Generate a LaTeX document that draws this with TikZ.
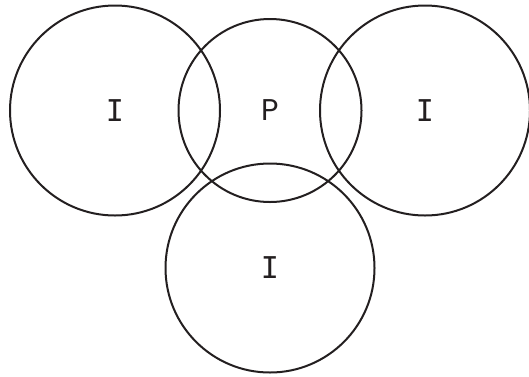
\documentclass[tikz,border=0pt]{standalone}
\usepackage{fontspec}
\setmainfont{Poppins}
\newfontfamily\labelmono{DejaVu Sans Mono}
\usepackage{tikz}
\definecolor{ringInk}{HTML}{231F20}

\begin{document}
\begin{tikzpicture}[x=0.5pt,y=-0.5pt,font=\fontsize{15}{18}\selectfont,
  ringnode/.style={circle,draw=ringInk,line width=1pt,inner sep=0pt,text=ringInk}]
  \useasboundingbox (0,0) rectangle (529,376);
  \node[ringnode,minimum size=105pt,font=\labelmono\fontsize{15}{18}\selectfont] (leftI) at (115,110.5) {I};
  \node[ringnode,minimum size=91.5pt] (midP) at (270,110.5) {P};
  \node[ringnode,minimum size=105pt,font=\labelmono\fontsize{15}{18}\selectfont] (rightI) at (425,110.5) {I};
  \node[ringnode,minimum size=104.5pt,font=\labelmono\fontsize{15}{18}\selectfont] (bottomI) at (270,268) {I};
\end{tikzpicture}
\end{document}
